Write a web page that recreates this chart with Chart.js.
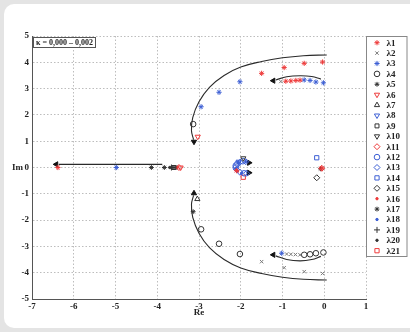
<!DOCTYPE html>
<html>
<head>
<meta charset="utf-8">
<script src="https://cdn.jsdelivr.net/npm/chart.js@4/dist/chart.umd.min.js"></script>
<style>
  html, body { margin: 0; padding: 0; background: #e4e4e4; }
  .card {
    position: absolute; left: 4px; top: 4px; width: 416px; height: 324px;
    background: #fff; border-radius: 10px;
  }
  .wrap { position: absolute; left: 0; top: 0; width: 410px; height: 332px; }
</style>
</head>
<body>
<div class="card"></div>
<div class="wrap"><canvas id="chart"></canvas></div>
<script>
// root locus points (Re, Im) for each eigenvalue
const seriesNames = ['λ1','λ2','λ3','λ4','λ5','λ6','λ7','λ8','λ9','λ10','λ11','λ12','λ13','λ14','λ15','λ16','λ17','λ18','λ19','λ20','λ21']

const lambda1 = [[-6.38,0],[-1.5,3.58],[-0.96,3.8],[-0.48,3.96],[-0.04,4.01],[-0.92,3.28],[-0.8,3.29],[-0.68,3.31],[-0.58,3.32],[-2.1,-0.12],[-0.06,-0.03]]
const lambda2 = [[-1.04,3.27],[-0.9,-3.29],[-0.8,-3.3],[-0.69,-3.31],[-0.58,-3.32],[-1.5,-3.58],[-0.96,-3.81],[-0.48,-3.96],[-0.04,-4.03]]
const lambda3 = [[-4.98,0],[-2.95,2.31],[-2.52,2.86],[-2.02,3.26],[-0.48,3.33],[-0.34,3.31],[-0.2,3.25],[-0.02,3.22],[-1.02,-3.26]]
const lambda4 = [[-3.14,1.65],[-2.95,-2.35],[-2.52,-2.9],[-2.02,-3.29],[-0.48,-3.32],[-0.34,-3.3],[-0.2,-3.26],[-0.02,-3.23]]
const lambda5 = [[-4.14,0],[-3.83,0],[-3.14,-1.68],[-3.62,0]]
const lambda6 = [[-3.03,1.17],[-3.44,0]]
const lambda7 = [[-3.04,-1.2]]
const lambda8 = [[-2.05,0.22]]
const lambda9 = [[-3.6,0]]
const lambda10 = [[-1.94,0.35]]
const lambda11 = [[-0.06,-0.03],[-3.48,0]]
const lambda12 = [[-1.95,0.24],[-2.08,0.14],[-2.12,0],[-1.92,-0.22],[-2.12,0.07]]
const lambda13 = [[-2.02,0.2],[-2.1,-0.08],[-2.02,-0.18],[-1.86,-0.22],[-1.88,0.22]]
const lambda14 = [[-0.18,0.37]]
const lambda15 = [[-0.18,-0.39]]
const lambda16 = [[-3.52,0],[-2.08,-0.14]]
const lambda17 = [[-3.55,0],[-0.09,-0.05]]
const lambda18 = [[-1.88,0.22],[-1.98,-0.22],[-2.12,-0.04],[-2.06,0.18]]
const lambda19 = [[-3.66,0]]
const lambda20 = [[-3.7,0]]
const lambda21 = [[-1.94,-0.37]]

const allSeries = [lambda1,lambda2,lambda3,lambda4,lambda5,lambda6,lambda7,lambda8,lambda9,lambda10,lambda11,lambda12,lambda13,lambda14,lambda15,lambda16,lambda17,lambda18,lambda19,lambda20,lambda21]

// arrow paths showing the direction of increasing kappa
const pathLeft = [[-3.88,0.12],[-6.36,0.12]]
const pathUpperOuter = [[0.06,4.28],[-0.5,4.25],[-1.0,4.17],[-1.5,4.03],[-2.0,3.82],[-2.4,3.5],[-2.75,3.05],[-3.0,2.5],[-3.15,1.9],[-3.18,1.4],[-3.13,1.06]]
const pathLowerOuter = [[0.06,-4.28],[-0.5,-4.25],[-1.0,-4.17],[-1.5,-4.03],[-2.0,-3.82],[-2.4,-3.5],[-2.75,-3.05],[-3.0,-2.5],[-3.15,-1.9],[-3.18,-1.4],[-3.13,-1.06]]
const pathUpperInner = [[-0.08,3.36],[-0.3,3.46],[-0.58,3.49],[-0.9,3.45],[-1.16,3.33]]
const pathLowerInner = [[-0.08,-3.38],[-0.3,-3.5],[-0.58,-3.55],[-0.9,-3.5],[-1.16,-3.36]]
const arrowHeads = [[-6.42,0.12],[-3.12,0.98],[-3.12,-0.98],[-1.22,3.3],[-1.22,-3.32],[-1.8,0.18],[-1.8,-0.2]]
const arrowAngles = [-90, 180, 0, -90, -90, 90, 90]

const RED = '#ee3b3b'
const BLUE = '#3d5fd4'
const GREY = '#7a7a7a'
const BLACK = '#333'
const NONE = 'rgba(0,0,0,0)'

const markerStyles = [
  { pointStyle: 'star', color: RED, fill: RED, radius: 2.6 },
  { pointStyle: 'crossRot', color: GREY, fill: GREY, radius: 2.4 },
  { pointStyle: 'star', color: BLUE, fill: BLUE, radius: 2.6 },
  { pointStyle: 'circle', color: BLACK, fill: NONE, radius: 2.8 },
  { pointStyle: 'star', color: BLACK, fill: BLACK, radius: 2.4 },
  { pointStyle: 'triangle', rotation: 180, color: RED, fill: NONE, radius: 3 },
  { pointStyle: 'triangle', color: BLACK, fill: NONE, radius: 3 },
  { pointStyle: 'triangle', rotation: 180, color: BLUE, fill: NONE, radius: 3 },
  { pointStyle: 'rect', color: BLACK, fill: NONE, radius: 2.8 },
  { pointStyle: 'triangle', rotation: 180, color: BLACK, fill: NONE, radius: 3 },
  { pointStyle: 'rectRot', color: RED, fill: NONE, radius: 3 },
  { pointStyle: 'circle', color: BLUE, fill: NONE, radius: 2.8 },
  { pointStyle: 'rectRot', color: BLUE, fill: NONE, radius: 3 },
  { pointStyle: 'rect', color: BLUE, fill: NONE, radius: 3 },
  { pointStyle: 'rectRot', color: BLACK, fill: NONE, radius: 3 },
  { pointStyle: 'circle', color: RED, fill: RED, radius: 1.2 },
  { pointStyle: 'star', color: BLACK, fill: NONE, radius: 2.4 },
  { pointStyle: 'circle', color: BLUE, fill: BLUE, radius: 1.2 },
  { pointStyle: 'cross', color: BLACK, fill: BLACK, radius: 3 },
  { pointStyle: 'circle', color: BLACK, fill: BLACK, radius: 1.2 },
  { pointStyle: 'rect', color: RED, fill: NONE, radius: 3 },
]

const toXY = (pts) => pts.map(([x, y]) => ({ x, y }))

const markerDatasets = allSeries.map((pts, i) => {
  const s = markerStyles[i]
  return {
    label: seriesNames[i],
    data: toXY(pts),
    pointStyle: s.pointStyle,
    rotation: s.rotation || 0,
    radius: s.radius,
    borderColor: s.color,
    backgroundColor: s.fill,
    borderWidth: 1,
    showLine: false,
  }
})

const pathDataset = (pts) => ({
  label: '',
  data: toXY(pts),
  showLine: true,
  tension: 0.4,
  borderColor: '#2a2a2a',
  borderWidth: 1.1,
  pointRadius: 0,
  order: 50,
})

const arrowDataset = {
  label: '',
  data: toXY(arrowHeads),
  pointStyle: 'triangle',
  rotation: arrowAngles,
  radius: 3,
  backgroundColor: '#111',
  borderColor: '#111',
  borderWidth: 1,
  showLine: false,
  order: 49,
}

const serif = "'Liberation Serif', 'DejaVu Serif', serif"

const extrasPlugin = {
  id: 'extras',
  afterDraw(chart) {
    const { ctx, chartArea } = chart
    ctx.save()
    // kappa range box
    ctx.fillStyle = '#fff'
    ctx.fillRect(chartArea.left + 1, chartArea.top + 1.5, 62, 10)
    ctx.strokeStyle = '#555'
    ctx.lineWidth = 1
    ctx.strokeRect(chartArea.left + 1.5, chartArea.top + 1.5, 62, 10)
    ctx.fillStyle = '#222'
    ctx.font = `bold 8px ${serif}`
    ctx.textBaseline = 'middle'
    ctx.textAlign = 'left'
    ctx.fillText('κ = 0,000 – 0,002', chartArea.left + 4, chartArea.top + 7)

    // Im label (horizontal)
    ctx.font = `bold 9px ${serif}`
    ctx.textAlign = 'center'
    ctx.fillText('Im', 17.5, chart.scales.y.getPixelForValue(0))

    // legend box
    const lx = chartArea.right
    const ly = chartArea.top
    ctx.fillStyle = '#fff'
    ctx.fillRect(lx, ly, 41, 220)
    ctx.strokeStyle = '#888'
    ctx.strokeRect(lx + 0.5, ly + 0.5, 40.5, 220)
    seriesNames.forEach((name, i) => {
      const s = markerStyles[i]
      const y = ly + 6.7 + i * 10.4
      ctx.fillStyle = s.fill
      ctx.strokeStyle = s.color
      ctx.lineWidth = 1
      Chart.helpers.drawPoint(ctx, { pointStyle: s.pointStyle, rotation: s.rotation || 0, radius: s.radius, borderWidth: 1 }, lx + 11, y)
      ctx.fillStyle = '#222'
      ctx.font = `bold 9px ${serif}`
      ctx.textAlign = 'left'
      ctx.fillText(name, lx + 20.5, y + 0.5)
    })
    ctx.restore()
  },
}

const gridStyle = {
  color: '#bdbdbd',
  lineWidth: 1,
  drawTicks: false,
}

const axisBorder = { display: true, color: '#555', width: 1, dash: [1.5, 2] }

new Chart(document.getElementById('chart'), {
  type: 'scatter',
  data: {
    datasets: [
      ...markerDatasets,
      pathDataset(pathLeft),
      pathDataset(pathUpperOuter),
      pathDataset(pathLowerOuter),
      pathDataset(pathUpperInner),
      pathDataset(pathLowerInner),
      arrowDataset,
    ],
  },
  options: {
    responsive: true,
    maintainAspectRatio: false,
    animation: false,
    layout: { padding: { top: 36, right: 44, bottom: 14, left: 0 } },
    plugins: { legend: { display: false }, tooltip: { enabled: false } },
    scales: {
      x: {
        type: 'linear',
        min: -7,
        max: 1,
        afterFit: (scale) => { scale.height = 19 },
        border: axisBorder,
        grid: gridStyle,
        ticks: { stepSize: 1, padding: 2, color: '#222', font: { family: serif, size: 9, weight: 'bold' } },
        title: { display: true, text: 'Re', color: '#222', padding: 0, font: { family: serif, size: 9, weight: 'bold' } },
      },
      y: {
        type: 'linear',
        min: -5,
        max: 5,
        afterFit: (scale) => { scale.width = 32 },
        border: axisBorder,
        grid: gridStyle,
        ticks: { stepSize: 1, padding: 3, color: '#222', font: { family: serif, size: 9, weight: 'bold' } },
      },
    },
  },
  plugins: [extrasPlugin],
})
</script>
</body>
</html>
